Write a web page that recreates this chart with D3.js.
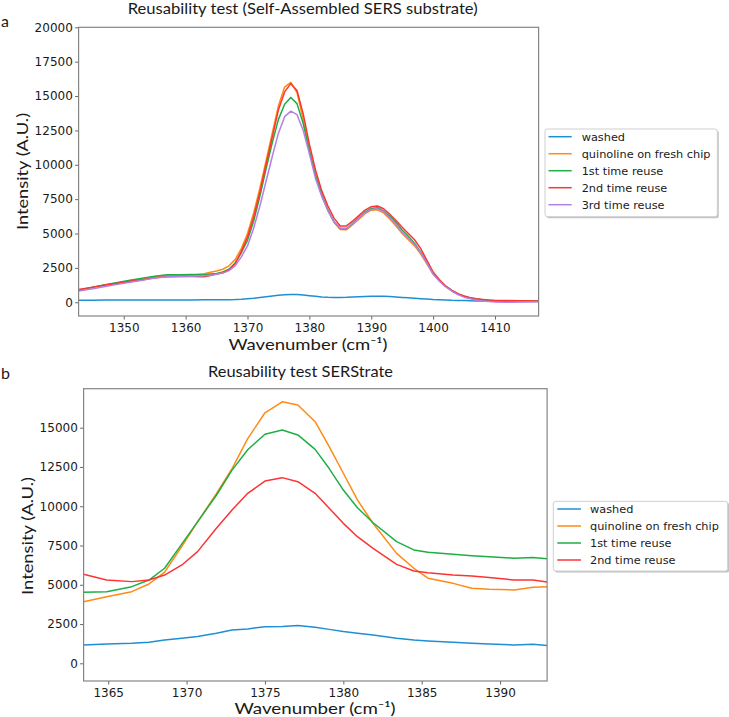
<!DOCTYPE html>
<html><head><meta charset="utf-8">
<script src="https://cdn.jsdelivr.net/npm/d3@7"></script>
<style>body{margin:0;background:#fff}</style>
</head><body>
<svg id="c" width="729" height="717"></svg>
<script>
// ---------- DATA: panel a ----------
const seriesNamesA = ["washed","quinoline on fresh chip","1st time reuse","2nd time reuse","3rd time reuse"];
const wavenumberA = [1342.7,1345,1347,1349,1351,1353,1355,1357,1359,1361,1363,1364,1365,1366,1367,1368,1369,1370,1371,1372,1373,1374,1375,1376,1377,1378,1379,1380,1381,1382,1383,1384,1385,1386,1387,1388,1389,1390,1391,1392,1393,1394,1395,1396,1397,1398,1399,1400,1401,1402,1403,1404,1405,1406,1407,1408,1409,1410,1412,1414,1417.05];
const washedA = [150,150,160,160,160,160,160,170,160,170,180,180,180,190,190,200,220,250,290,340,400,460,510,540,560,560,530,480,430,390,360,350,350,360,380,400,420,430,440,430,410,380,350,320,290,260,230,200,180,160,140,130,120,110,100,90,80,70,60,60,50];
const freshA = [880,1080,1250,1400,1560,1680,1850,1940,1950,1990,2080,2180,2280,2400,2650,3100,3900,5000,6500,8300,10300,12300,14300,15650,16000,15250,13300,11100,9200,7800,6700,5800,5300,5280,5650,6050,6450,6700,6720,6500,6050,5550,5000,4550,4100,3500,2800,2050,1550,1150,850,600,420,300,220,170,130,100,90,80,70];
const reuse1A = [880,1100,1280,1430,1600,1740,1900,2000,2000,2020,2000,2050,2100,2200,2400,2850,3600,4500,5900,7700,9700,11600,13300,14400,14900,14450,13000,11000,9200,7800,6700,5850,5350,5350,5750,6150,6550,6820,6880,6650,6250,5800,5250,4800,4300,3650,2900,2100,1600,1170,860,610,430,310,230,180,140,110,100,90,90];
const reuse2A = [920,1100,1250,1380,1520,1640,1780,1860,1870,1880,1850,1950,2050,2150,2350,2800,3700,4750,6200,8000,10000,12000,14000,15300,15900,15400,13700,11500,9600,8100,7000,6100,5550,5550,5900,6300,6700,6950,7000,6800,6400,5950,5450,5000,4550,3900,3050,2200,1650,1200,880,630,450,330,250,200,160,130,120,110,100];
const reuse3A = [820,980,1150,1300,1450,1600,1760,1850,1880,1900,1920,1960,2030,2120,2300,2650,3300,4100,5400,7000,8800,10600,12300,13500,13900,13650,12500,10800,9000,7700,6650,5850,5380,5380,5700,6100,6500,6750,6800,6600,6150,5650,5100,4650,4200,3600,2850,2050,1550,1130,820,560,370,250,160,100,60,20,0,20,40];
const xTicksA = [1350,1360,1370,1380,1390,1400,1410];
const yTicksA = [0,2500,5000,7500,10000,12500,15000,17500,20000];

// ---------- DATA: panel b ----------
const seriesNamesB = ["washed","quinoline on fresh chip","1st time reuse","2nd time reuse"];
const wavenumberB = [1363.43,1364.9,1366.5,1367.6,1368.6,1369.7,1370.7,1371.9,1372.9,1373.9,1375.0,1376.1,1377.1,1378.2,1379.1,1380.0,1380.9,1381.9,1383.4,1384.5,1385.4,1387.0,1388.2,1389.3,1390.9,1392.1,1393.0];
const washedB = [1170,1230,1270,1340,1480,1590,1700,1910,2120,2190,2330,2340,2400,2290,2160,2020,1910,1800,1590,1480,1420,1340,1270,1230,1170,1210,1130];
const freshB = [3920,4240,4560,5050,5800,7450,9000,10800,12400,14300,15950,16650,16450,15380,13800,12100,10400,8900,7000,6050,5420,5090,4780,4710,4670,4840,4880];
const reuse1B = [4520,4560,4880,5300,6050,7600,9000,10700,12300,13600,14580,14850,14540,13620,12400,11030,9900,8950,7750,7220,7070,6940,6850,6790,6690,6730,6660];
const reuse2B = [5670,5300,5200,5300,5620,6260,7110,8600,9760,10820,11600,11820,11560,10820,9870,8910,8060,7320,6300,5880,5770,5620,5560,5470,5300,5300,5180];
const xTicksB = [1365,1370,1375,1380,1385,1390];
const yTicksB = [0,2500,5000,7500,10000,12500,15000];

const colors = ["#1f8fd4","#ff8a16","#1fae45","#fb3434","#b57fe3"];

// ---------- DRAW ----------
const svg = d3.select("#c");
svg.append("rect").attr("width",729).attr("height",717).attr("fill","#fff");
const LBL = "Lato, 'Open Sans', sans-serif";
const TCK = "'DejaVu Sans', sans-serif";

function panel(o){
  const x = d3.scaleLinear().domain(d3.extent(o.xs)).range([o.L,o.R]);
  const y = d3.scaleLinear().domain(o.yDom).range([o.B,o.T]);
  const g = svg.append("g");
  const cid = "clip"+o.id;
  g.append("clipPath").attr("id",cid).append("rect")
    .attr("x",o.L).attr("y",o.T).attr("width",o.R-o.L).attr("height",o.B-o.T);
  const line = d3.line().x((d,i)=>x(o.xs[i])).y(d=>y(d));
  o.series.forEach((s,k)=>{
    g.append("path").attr("d",line(s)).attr("fill","none")
      .attr("stroke",colors[k]).attr("stroke-width",1.5)
      .attr("stroke-linejoin","round")
      .attr("clip-path",`url(#${cid})`);
  });
  const ax = g.append("g").attr("transform",`translate(0,${o.B})`)
    .call(d3.axisBottom(x).tickValues(o.xTicks).tickSize(3.5).tickPadding(o.xPad).tickFormat(d3.format("d")).tickSizeOuter(0));
  const ay = g.append("g").attr("transform",`translate(${o.L},0)`)
    .call(d3.axisLeft(y).tickValues(o.yTicks).tickSize(3.5).tickPadding(2.3).tickFormat(d3.format("d")).tickSizeOuter(0));
  [ax,ay].forEach(a=>{
    a.select(".domain").remove();
    a.selectAll(".tick line").attr("stroke","#555").attr("stroke-width",0.9);
    a.selectAll(".tick text").attr("font-family",TCK).attr("font-size",12).attr("fill","#1a1a1a");
  });
  g.append("rect").attr("x",o.L).attr("y",o.T).attr("width",o.R-o.L).attr("height",o.B-o.T)
    .attr("fill","none").attr("stroke","#858585").attr("stroke-width",1.2);
  svg.append("text").attr("x",o.title[1]).attr("y",o.title[2]).attr("text-anchor","middle")
    .attr("font-family",LBL).attr("font-size",15).attr("fill","#1a1a1a")
    .attr("textLength",o.title[3]).attr("lengthAdjust","spacingAndGlyphs").text(o.title[0]);
  svg.append("text").attr("x",o.xl[0]).attr("y",o.xl[1]).attr("text-anchor","middle")
    .attr("font-family",LBL).attr("font-size",15).attr("fill","#1a1a1a")
    .attr("textLength",o.xl[2]).attr("lengthAdjust","spacingAndGlyphs").text("Wavenumber (cm\u207B\u00B9)");
  svg.append("text").attr("transform",`translate(${o.yl[0]},${o.yl[1]}) rotate(-90)`)
    .attr("text-anchor","middle").attr("dominant-baseline","central")
    .attr("font-family",LBL).attr("font-size",16).attr("fill","#1a1a1a")
    .attr("textLength",o.yl[2]).attr("lengthAdjust","spacingAndGlyphs").text("Intensity (A.U.)");
  svg.append("text").attr("x",1).attr("y",o.letter[1]).attr("font-family",LBL).attr("font-size",16)
    .attr("fill","#1a1a1a").text(o.letter[0]);
  const lg = svg.append("g");
  const Lb = o.leg;
  lg.append("rect").attr("x",Lb.x+1.5).attr("y",Lb.y+1.5).attr("width",Lb.w).attr("height",Lb.h)
    .attr("rx",2.5).attr("fill","#9a9a9a").attr("opacity",0.6);
  lg.append("rect").attr("x",Lb.x).attr("y",Lb.y).attr("width",Lb.w).attr("height",Lb.h)
    .attr("rx",2.5).attr("fill","#fff").attr("stroke","#cfcfcf").attr("stroke-width",1);
  o.names.forEach((n,k)=>{
    const cy = Lb.y0 + k*17;
    lg.append("line").attr("x1",Lb.lx0).attr("x2",Lb.lx1).attr("y1",cy).attr("y2",cy)
      .attr("stroke",colors[k]).attr("stroke-width",1.5);
    lg.append("text").attr("x",Lb.tx).attr("y",cy).attr("dy","0.36em")
      .attr("font-family",TCK).attr("font-size",11.3).attr("fill","#1a1a1a").text(n);
  });
}

panel({id:"a", xs:wavenumberA, series:[washedA,freshA,reuse1A,reuse2A,reuse3A], names:seriesNamesA,
  L:78.6,R:538.6,T:27.3,B:316, yDom:[-1000,20000], xTicks:xTicksA, yTicks:yTicksA, xPad:3.5,
  title:["Reusability test (Self-Assembled SERS substrate)",302.7,13.5,350],
  xl:[308,349.5,159], yl:[21,171.5,117], letter:["a",26.5],
  leg:{x:545,y:129,w:172.3,h:87.7,y0:136.7,lx0:548.5,lx1:571.7,tx:581.7}});

panel({id:"b", xs:wavenumberB, series:[washedB,freshB,reuse1B,reuse2B], names:seriesNamesB,
  L:83.6,R:547.1,T:388.7,B:681, yDom:[-1127,17483], xTicks:xTicksB, yTicks:yTicksB, xPad:4,
  title:["Reusability test SERStrate",300.5,377.3,185],
  xl:[315,713.5,161], yl:[26,536,118], letter:["b",379],
  leg:{x:553.3,y:501.3,w:174.4,h:69.7,y0:509,lx0:557.3,lx1:581,tx:590}});
</script>
</body></html>
